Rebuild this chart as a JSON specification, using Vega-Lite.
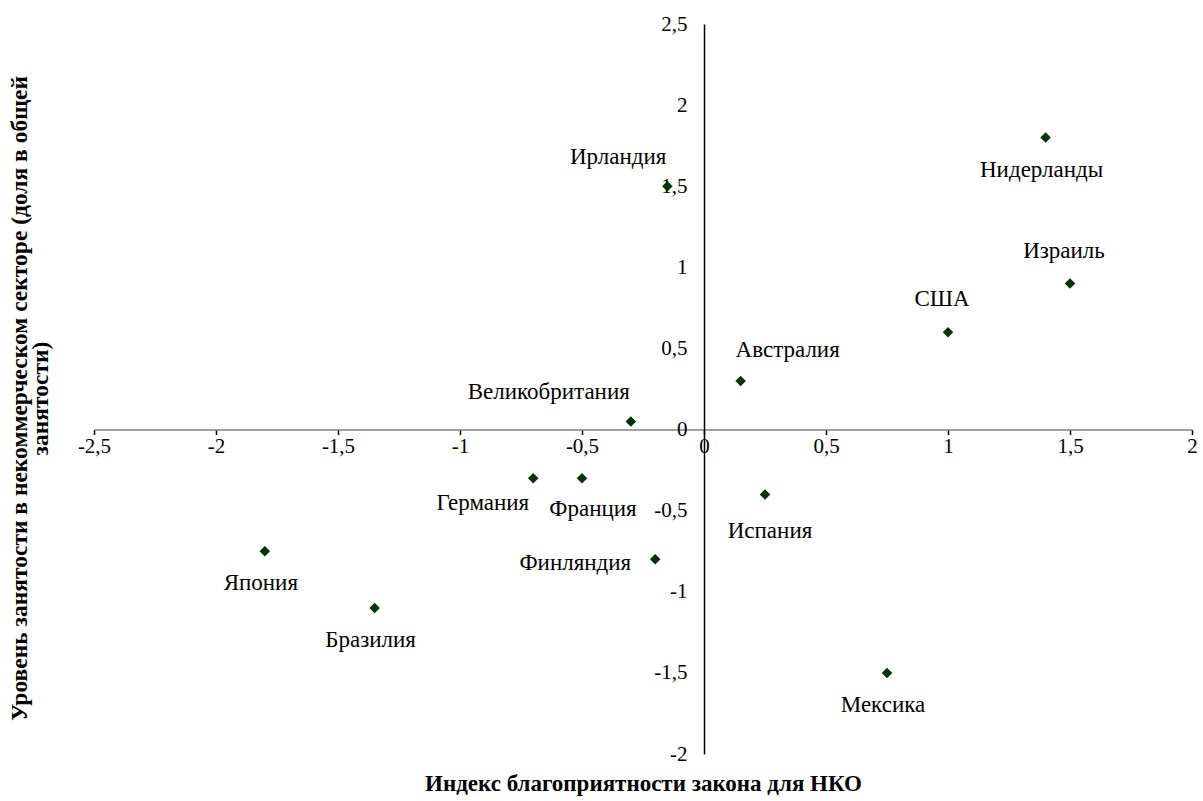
{
  "$schema": "https://vega.github.io/schema/vega-lite/v6.json",
  "width": 1098,
  "height": 730,
  "autosize": {"type": "none"},
  "padding": {"left": 94, "top": 24, "right": 11, "bottom": 47},
  "background": "white",
  "config": {
    "view": {"stroke": null},
    "font": "'Liberation Serif', serif",
    "text": {"font": "'Liberation Serif', serif", "fontSize": 23, "color": "black", "baseline": "middle"}
  },
  "data": {
    "values": [
      {"country": "Нидерланды", "law": 1.4, "emp": 1.8},
      {"country": "Израиль", "law": 1.5, "emp": 0.9},
      {"country": "США", "law": 1.0, "emp": 0.6},
      {"country": "Австралия", "law": 0.15, "emp": 0.3},
      {"country": "Ирландия", "law": -0.15, "emp": 1.5},
      {"country": "Великобритания", "law": -0.3, "emp": 0.05},
      {"country": "Германия", "law": -0.7, "emp": -0.3},
      {"country": "Франция", "law": -0.5, "emp": -0.3},
      {"country": "Испания", "law": 0.25, "emp": -0.4},
      {"country": "Финляндия", "law": -0.2, "emp": -0.8},
      {"country": "Япония", "law": -1.8, "emp": -0.75},
      {"country": "Бразилия", "law": -1.35, "emp": -1.1},
      {"country": "Мексика", "law": 0.75, "emp": -1.5}
    ]
  },
  "encoding": {
    "x": {
      "field": "law", "type": "quantitative",
      "scale": {"domain": [-2.5, 2], "nice": false, "zero": false},
      "axis": {
        "values": [-2.5, -2, -1.5, -1, -0.5, 0, 0.5, 1, 1.5, 2],
        "labelExpr": "replace(toString(datum.value), '.', ',')",
        "offset": -324.44,
        "grid": false,
        "domainColor": "#808080",
        "domainWidth": 1.5,
        "tickColor": "black",
        "tickSize": 5,
        "tickWidth": 1.5,
        "labelFont": "'Liberation Serif', serif",
        "labelFontSize": 21,
        "labelColor": "black",
        "labelPadding": 1,
        "labelFlush": false,
        "labelOverlap": false,
        "title": "Индекс благоприятности закона для НКО",
        "titleFont": "'Liberation Serif', serif",
        "titleFontSize": 23,
        "titleFontWeight": "bold",
        "titleColor": "black",
        "titleBaseline": "middle",
        "titleY": 354
      }
    },
    "y": {
      "field": "emp", "type": "quantitative",
      "scale": {"domain": [-2, 2.5], "nice": false, "zero": false},
      "axis": {
        "values": [-2, -1.5, -1, -0.5, 0, 0.5, 1, 1.5, 2, 2.5],
        "labelExpr": "replace(toString(datum.value), '.', ',')",
        "offset": -610,
        "grid": false,
        "domainColor": "black",
        "domainWidth": 1.5,
        "ticks": false,
        "tickSize": 0,
        "labelFont": "'Liberation Serif', serif",
        "labelFontSize": 21,
        "labelColor": "black",
        "labelPadding": 17,
        "labelFlush": false,
        "labelOverlap": false,
        "title": ["Уровень занятости в некоммерческом секторе (доля в общей", "занятости)"],
        "titleFont": "'Liberation Serif', serif",
        "titleFontSize": 23.5,
        "titleFontWeight": "bold",
        "titleColor": "black",
        "titleBaseline": "middle",
        "titleLineHeight": 21,
        "titleAngle": -90,
        "titleAlign": "center",
        "titleX": -685,
        "titleY": 374
      }
    }
  },
  "layer": [
    {
      "mark": {"type": "point", "shape": "diamond", "filled": true, "size": 110, "color": "#003300", "opacity": 1}
    },
    {
      "transform": [{"filter": {"field": "country", "oneOf": ["Япония", "Бразилия", "Мексика", "Нидерланды"]}}],
      "mark": {"type": "text", "align": "center", "dx": -4, "dy": 32},
      "encoding": {"text": {"field": "country"}}
    },
    {
      "transform": [{"filter": {"field": "country", "oneOf": ["Франция"]}}],
      "mark": {"type": "text", "align": "center", "dx": 11, "dy": 31},
      "encoding": {"text": {"field": "country"}}
    },
    {
      "transform": [{"filter": {"field": "country", "oneOf": ["Испания"]}}],
      "mark": {"type": "text", "align": "center", "dx": 5, "dy": 37},
      "encoding": {"text": {"field": "country"}}
    },
    {
      "transform": [{"filter": {"field": "country", "oneOf": ["Израиль", "США"]}}],
      "mark": {"type": "text", "align": "center", "dx": -6, "dy": -33},
      "encoding": {"text": {"field": "country"}}
    },
    {
      "transform": [{"filter": {"field": "country", "oneOf": ["Австралия"]}}],
      "mark": {"type": "text", "align": "left", "dx": -5, "dy": -31},
      "encoding": {"text": {"field": "country"}}
    },
    {
      "transform": [{"filter": {"field": "country", "oneOf": ["Ирландия", "Великобритания"]}}],
      "mark": {"type": "text", "align": "right", "dx": -1, "dy": -29},
      "encoding": {"text": {"field": "country"}}
    },
    {
      "transform": [{"filter": {"field": "country", "oneOf": ["Германия"]}}],
      "mark": {"type": "text", "align": "right", "dx": -4, "dy": 25},
      "encoding": {"text": {"field": "country"}}
    },
    {
      "transform": [{"filter": {"field": "country", "oneOf": ["Финляндия"]}}],
      "mark": {"type": "text", "align": "right", "dx": -24, "dy": 4},
      "encoding": {"text": {"field": "country"}}
    }
  ]
}
